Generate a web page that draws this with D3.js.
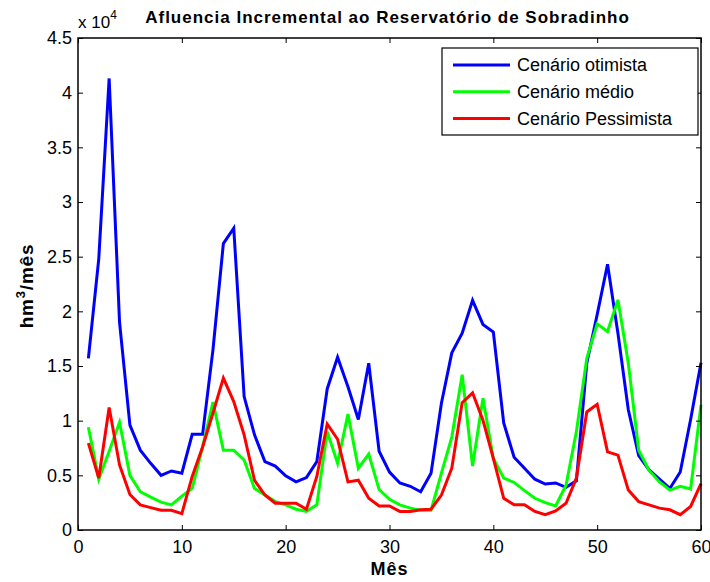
<!DOCTYPE html>
<html>
<head>
<meta charset="utf-8">
<script src="https://cdn.jsdelivr.net/npm/d3@7"></script>
<style>
  body { margin: 0; background: #fff; }
  svg { display: block; font-family: "Liberation Sans", Arial, sans-serif; }
</style>
</head>
<body>
<div id="chart"></div>
<script>
// months 1..60
const months = d3.range(1, 61);

// values in hm3 (axis is x 10^4)
const otimista = [
  15700, 24800, 41300, 19000, 9600, 7300, 6100, 5000, 5400, 5200,
  8750, 8750, 16500, 26200, 27600, 12200, 8700, 6250, 5850, 4950,
  4400, 4800, 6250, 12900, 15800, 13100, 10100, 15250, 7200, 5300,
  4300, 4000, 3500, 5200, 11600, 16200, 18000, 21000, 18800, 18100,
  9800, 6650, 5650, 4650, 4200, 4300, 3900, 4500, 15250, 19700,
  24300, 18000, 11000, 6800, 5500, 4650, 3800, 5300, 10100, 15300
];
const medio = [
  9400, 4650, 7200, 9850, 5000, 3500, 3000, 2550, 2300, 3100,
  3800, 7600, 11700, 7300, 7300, 6400, 3800, 3200, 2600, 2300,
  1900, 1700, 2300, 9000, 6100, 10600, 5650, 6950, 3700, 2800,
  2300, 2000, 1800, 1800, 5200, 8500, 14200, 5850, 12050, 6550,
  4750, 4350, 3600, 2900, 2500, 2200, 4100, 9000, 15700, 18850,
  18150, 21050, 15250, 7300, 5450, 4400, 3650, 4000, 3750, 11450
];
const pessimista = [
  7950, 4750, 11200, 5950, 3250, 2300, 2050, 1800, 1800, 1500,
  4900, 7600, 10700, 13900, 11750, 8700, 4550, 3200, 2450, 2450,
  2450, 1900, 4900, 9700, 8300, 4400, 4550, 2900, 2200, 2200,
  1700, 1700, 1850, 1900, 3200, 5650, 11650, 12550, 10050, 6550,
  2900, 2300, 2300, 1700, 1400, 1750, 2450, 4750, 10800, 11500,
  7150, 6850, 3650, 2600, 2300, 2000, 1850, 1400, 2150, 4250
];

const series = [
  { name: 'Cenário otimista', values: otimista, color: '#0000ff' },
  { name: 'Cenário médio', values: medio, color: '#00ff00' },
  { name: 'Cenário Pessimista', values: pessimista, color: '#ff0000' },
];

const xTicks = [0, 10, 20, 30, 40, 50, 60];
const yTicks = [0, 0.5, 1, 1.5, 2, 2.5, 3, 3.5, 4, 4.5];

const width = 710;
const height = 582;
const margin = { top: 38, right: 9, bottom: 52, left: 78 };

const svg = d3.select('#chart').append('svg')
  .attr('width', width)
  .attr('height', height);

const x = d3.scaleLinear().domain([0, 60]).range([margin.left, width - margin.right]);
const y = d3.scaleLinear().domain([0, 45000]).range([height - margin.bottom, margin.top]);

const plotLeft = x(0);
const plotRight = x(60);
const plotTop = y(45000);
const plotBottom = y(0);

// lines first, box on top like matlab
const line = d3.line()
  .x((d, i) => x(months[i]))
  .y(d => y(d));

svg.append('g').attr('class', 'lines')
  .selectAll('path')
  .data(series)
  .join('path')
  .attr('d', d => line(d.values))
  .attr('fill', 'none')
  .attr('stroke', d => d.color)
  .attr('stroke-width', 3)
  .attr('stroke-linejoin', 'miter');

// axes with inward ticks
const tickLen = 5;
const xAxis = d3.axisBottom(x).tickValues(xTicks).tickSizeInner(-tickLen).tickSizeOuter(0)
  .tickPadding(10).tickFormat(d3.format('d'));
const xAxisTop = d3.axisTop(x).tickValues(xTicks).tickSizeInner(-tickLen).tickSizeOuter(0)
  .tickFormat('');
const yAxis = d3.axisLeft(y).tickValues(yTicks.map(v => v * 1e4)).tickSizeInner(-tickLen)
  .tickSizeOuter(0).tickPadding(6).tickFormat(v => d3.format('~g')(v / 1e4));
const yAxisRight = d3.axisRight(y).tickValues(yTicks.map(v => v * 1e4)).tickSizeInner(-tickLen)
  .tickSizeOuter(0).tickFormat('');

function styleAxis(g) {
  g.select('.domain').remove();
  g.selectAll('line').attr('stroke', '#000').attr('stroke-width', 1);
  g.selectAll('text').attr('font-size', 18).attr('fill', '#000')
    .attr('font-family', '"Liberation Sans", Arial, sans-serif');
}

svg.append('g').attr('transform', `translate(0,${plotBottom})`).call(xAxis).call(styleAxis);
svg.append('g').attr('transform', `translate(0,${plotTop})`).call(xAxisTop).call(styleAxis);
svg.append('g').attr('transform', `translate(${plotLeft},0)`).call(yAxis).call(styleAxis);
svg.append('g').attr('transform', `translate(${plotRight},0)`).call(yAxisRight).call(styleAxis);

// box
svg.append('rect')
  .attr('x', plotLeft)
  .attr('y', plotTop)
  .attr('width', plotRight - plotLeft)
  .attr('height', plotBottom - plotTop)
  .attr('fill', 'none')
  .attr('stroke', '#000')
  .attr('stroke-width', 1.5);

// exponent label
const expo = svg.append('text')
  .attr('x', plotLeft)
  .attr('y', 28)
  .attr('font-size', 17);
expo.append('tspan').text('x 10');
expo.append('tspan').attr('dy', -9).attr('font-size', 12).text('4');

// title
svg.append('text')
  .attr('x', (plotLeft + plotRight) / 2 - 2)
  .attr('y', 23)
  .attr('text-anchor', 'middle')
  .attr('font-size', 17)
  .attr('font-weight', 'bold')
  .attr('letter-spacing', 1)
  .text('Afluencia Incremental ao Reservatório de Sobradinho');

// axis labels
svg.append('text')
  .attr('x', (plotLeft + plotRight) / 2)
  .attr('y', 575)
  .attr('text-anchor', 'middle')
  .attr('font-size', 18)
  .attr('font-weight', 'bold')
  .attr('letter-spacing', 1)
  .text('Mês');

const yl = svg.append('text')
  .attr('transform', `translate(33,${(plotTop + plotBottom) / 2 + 2}) rotate(-90)`)
  .attr('text-anchor', 'middle')
  .attr('font-size', 19)
  .attr('font-weight', 'bold')
  .attr('letter-spacing', 0.8);
yl.append('tspan').text('hm');
yl.append('tspan').attr('dy', -8).attr('font-size', 13).text('3');
yl.append('tspan').attr('dy', 8).text('/mês');

// legend
const legend = svg.append('g').attr('transform', 'translate(442,48)');
legend.append('rect')
  .attr('width', 256)
  .attr('height', 87)
  .attr('fill', '#fff')
  .attr('stroke', '#000')
  .attr('stroke-width', 1.2);
const item = legend.selectAll('g.item')
  .data(series)
  .join('g')
  .attr('class', 'item')
  .attr('transform', (d, i) => `translate(0,${17 + i * 26.7})`);
item.append('line')
  .attr('x1', 11).attr('x2', 68)
  .attr('stroke', d => d.color)
  .attr('stroke-width', 3);
item.append('text')
  .attr('x', 75)
  .attr('dy', '0.35em')
  .attr('font-size', 18)
  .text(d => d.name);
</script>
</body>
</html>
